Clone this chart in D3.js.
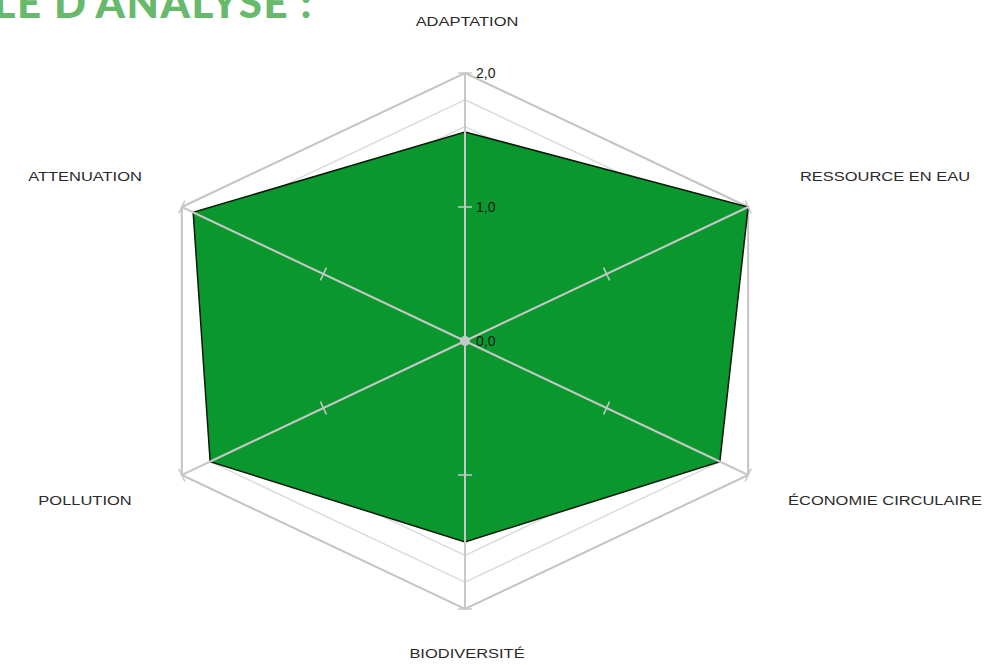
<!DOCTYPE html>
<html>
<head>
<meta charset="utf-8">
<script src="https://cdn.jsdelivr.net/npm/d3@7"></script>
<style>
  body { margin: 0; background: #fff; }
  svg { display: block; }
</style>
</head>
<body>
<svg id="radar" width="995" height="665"></svg>
<script>
// axes, clockwise from top
var axisNames = ["ADAPTATION", "RESSOURCE EN EAU", "ÉCONOMIE CIRCULAIRE", "BIODIVERSITÉ", "POLLUTION", "ATTENUATION"];
var scores = [1.56, 2.0, 1.8, 1.5, 1.8, 1.92];
var gridLevels = [0.2, 0.4, 0.6, 0.8, 1.0, 1.2, 1.4, 1.6, 1.8, 2.0];
var tickValues = [0, 1, 2];
var tickLabels = ["0,0", "1,0", "2,0"];
var titleText = "LE D'ANALYSE :";

var width = 995, height = 665;
var cx = 465, cy = 341;
var stretchX = 1.22;   // the picture is wider than it is tall

var svg = d3.select("#radar");

var rScale = d3.scaleLinear()
    .domain([0, 2])
    .range([0, 268]);

var angleScale = d3.scaleLinear()
    .domain([0, axisNames.length])
    .range([0, 2 * Math.PI]);

function pt(i, v) {
    var a = angleScale(i);
    return [cx + stretchX * rScale(v) * Math.sin(a), cy - rScale(v) * Math.cos(a)];
}

var line = d3.line().curve(d3.curveLinearClosed);

// grid rings
svg.append("g")
    .selectAll("path")
    .data(gridLevels)
    .enter()
    .append("path")
    .attr("d", function(lv) { return line(axisNames.map(function(d, i) { return pt(i, lv); })); })
    .attr("fill", "none")
    .attr("stroke", function(lv) { return lv == 2 ? "#c4c4c4" : "#dcdcdc"; })
    .attr("stroke-width", function(lv) { return lv == 2 ? 2 : 1.5; });

// data polygon
svg.append("path")
    .datum(scores)
    .attr("d", function(d) { return line(d.map(function(v, i) { return pt(i, v); })); })
    .attr("fill", "#0a982e")
    .attr("stroke", "#0c1a0c")
    .attr("stroke-width", 1.5)
    .attr("stroke-linejoin", "miter");

// spokes on top of the fill
svg.append("g")
    .selectAll("line")
    .data(axisNames)
    .enter()
    .append("line")
    .attr("x1", cx)
    .attr("y1", cy)
    .attr("x2", function(d, i) { return pt(i, 2)[0]; })
    .attr("y2", function(d, i) { return pt(i, 2)[1]; })
    .attr("stroke", "#c8c8c8")
    .attr("stroke-width", 2);

// little tick marks across each spoke
var tickMarks = [];
axisNames.forEach(function(d, i) {
    tickValues.slice(1).forEach(function(v) { tickMarks.push({i: i, v: v}); });
});
svg.append("g")
    .selectAll("line")
    .data(tickMarks)
    .enter()
    .append("line")
    .each(function(d) {
        var p = pt(d.i, d.v), q = pt(d.i, 0);
        var dx = p[0] - q[0], dy = p[1] - q[1];
        var len = Math.sqrt(dx * dx + dy * dy);
        var nx = -dy / len * 7, ny = dx / len * 7;
        d3.select(this)
            .attr("x1", p[0] - nx).attr("y1", p[1] - ny)
            .attr("x2", p[0] + nx).attr("y2", p[1] + ny);
    })
    .attr("stroke", "#c8c8c8")
    .attr("stroke-width", 1.5);

svg.append("circle")
    .attr("cx", cx)
    .attr("cy", cy)
    .attr("r", 5)
    .attr("fill", "#c8c8c8");

// scale labels along the top axis
svg.append("g")
    .selectAll("text")
    .data(tickValues)
    .enter()
    .append("text")
    .attr("x", cx + 11)
    .attr("y", function(v) { return pt(0, v)[1] + 5; })
    .attr("font-family", "Liberation Sans, Arial, sans-serif")
    .attr("font-size", "14px")
    .attr("fill", "#1a1a1a")
    .text(function(v, i) { return tickLabels[i]; });

// axis names
svg.append("g")
    .selectAll("text")
    .data(axisNames)
    .enter()
    .append("text")
    .attr("transform", function(d, i) {
        var a = angleScale(i), s = Math.sin(a), c = Math.cos(a);
        var x = cx + (s > 0.1 ? 420 : (s < -0.1 ? -380 : 2));
        var y = cy - c * 316 + 1;
        if (Math.abs(c) < 0.9) y = cy - c * 324 + 2;
        return "translate(" + x + "," + y + ") scale(" + stretchX + ",1)";
    })
    .attr("text-anchor", "middle")
    .attr("font-family", "Liberation Sans, Arial, sans-serif")
    .attr("font-size", "13.5px")
    .attr("fill", "#2a2a2a")
    .text(function(d) { return d; });

// title, cut at the top left edge like the original
svg.append("text")
    .attr("x", 313)
    .attr("y", 18)
    .attr("text-anchor", "end")
    .attr("font-family", "Lato, sans-serif")
    .attr("font-weight", "900")
    .attr("font-size", "42px")
    .attr("letter-spacing", "1.5px")
    .attr("fill", "#67b96b")
    .text(titleText);
</script>
</body>
</html>
